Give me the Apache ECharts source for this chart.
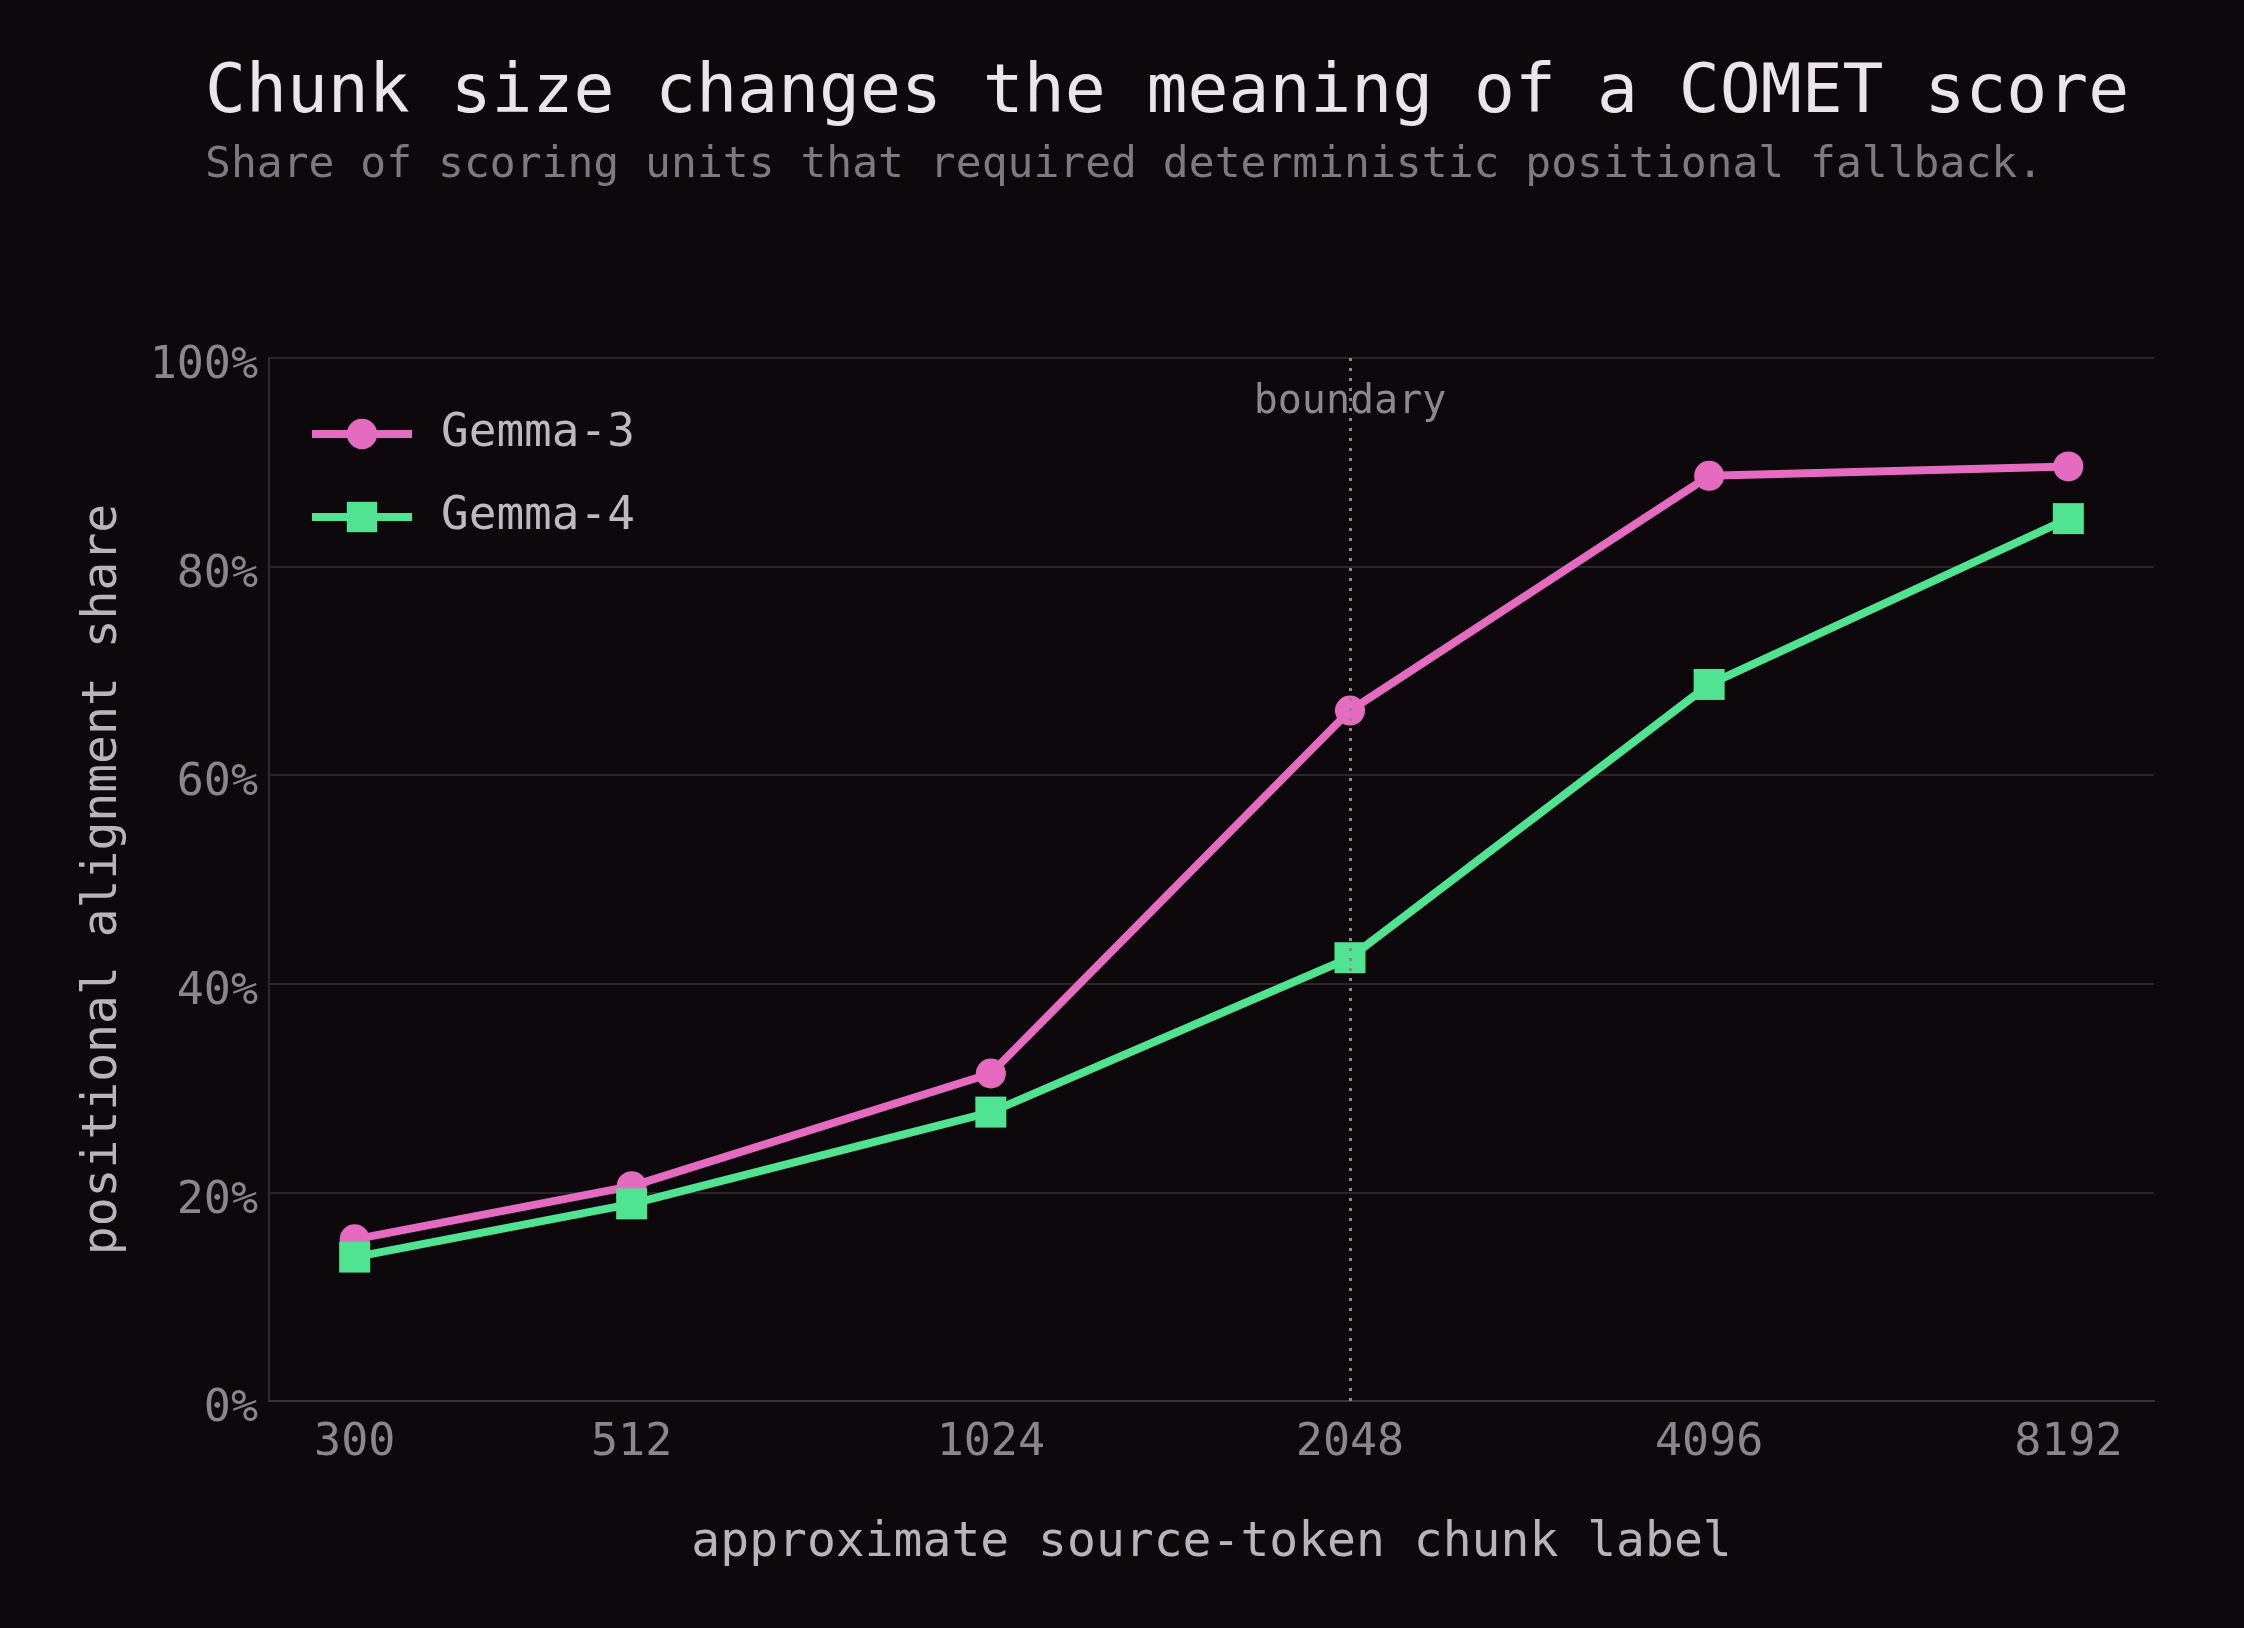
<!DOCTYPE html>
<html>
<head>
<meta charset="utf-8">
<script src="https://cdn.jsdelivr.net/npm/echarts@6/dist/echarts.min.js"></script>
<style>
html,body{margin:0;padding:0;background:#0c080c;}
#chart{width:2244px;height:1628px;}
</style>
</head>
<body>
<div id="chart"></div>
<script>
const chunkSizes = [300, 512, 1024, 2048, 4096, 8192];
const tickLabels = ['300', '512', '1024', '2048', '4096', '8192'];
const gemma3 = [15.5, 20.6, 31.4, 66.2, 88.7, 89.6];
const gemma4 = [13.8, 18.9, 27.7, 42.5, 68.7, 84.6];
const yTicks = [0, 20, 40, 60, 80, 100];
const boundaryChunk = 2048;

const FONT = '"DejaVu Sans Mono", "Liberation Mono", monospace';
const logX = chunkSizes.map(v => Math.log2(v));
const lo = Math.min(...logX), hi = Math.max(...logX), pad = (hi - lo) * 0.05;

function labelFor(v) {
  let best = 0, d = Infinity;
  logX.forEach((x, i) => { const dd = Math.abs(x - v); if (dd < d) { d = dd; best = i; } });
  return d < 1e-6 ? tickLabels[best] : '';
}

const chart = echarts.init(document.getElementById('chart'), null, {renderer: 'canvas'});
chart.setOption({
  backgroundColor: '#0c080c',
  animation: false,
  textStyle: {fontFamily: FONT},
  title: {
    text: 'Chunk size changes the meaning of a COMET score',
    subtext: 'Share of scoring units that required deterministic positional fallback.',
    left: 200,
    top: 49,
    itemGap: 7,
    textStyle: {fontFamily: FONT, fontSize: 68, fontWeight: 'normal', color: '#ebe5eb', lineHeight: 80},
    subtextStyle: {fontFamily: FONT, fontSize: 43, color: '#7f797f', lineHeight: 50}
  },
  legend: {
    left: 303,
    top: 404,
    orient: 'vertical',
    itemWidth: 100,
    itemHeight: 38,
    itemGap: 33,
    lineStyle: {width: 8},
    textStyle: {fontFamily: FONT, fontSize: 46, color: '#bfb9bf', lineHeight: 50, padding: [0, 0, 0, 24]},
    data: ['Gemma-3', 'Gemma-4']
  },
  grid: {left: 269, right: 90, top: 358, bottom: 227, containLabel: false},
  xAxis: {
    type: 'value',
    min: lo - pad,
    max: hi + pad,
    name: 'approximate source-token chunk label',
    nameLocation: 'middle',
    nameGap: 119,
    nameTextStyle: {fontFamily: FONT, fontSize: 48, color: '#bab4ba'},
    axisLine: {show: true, lineStyle: {color: '#38333a', width: 2}},
    axisTick: {show: false},
    splitLine: {show: false},
    axisLabel: {
      customValues: logX,
      formatter: labelFor,
      margin: 20,
      fontFamily: FONT, fontSize: 45, color: '#8c868c'
    }
  },
  yAxis: {
    type: 'value',
    min: 0, max: 100, interval: 20,
    name: 'positional alignment share',
    nameLocation: 'middle',
    nameGap: 141,
    nameTextStyle: {fontFamily: FONT, fontSize: 48, color: '#bab4ba'},
    axisLine: {show: true, lineStyle: {color: '#2e292d', width: 2}},
    axisTick: {show: false},
    splitLine: {show: true, lineStyle: {color: '#2a2528', width: 2}},
    axisLabel: {
      formatter: '{t|{value}%}',
      margin: 11,
      rich: {t: {fontFamily: FONT, fontSize: 45, color: '#8c868c', padding: [17, 0, 0, 0]}},
      fontFamily: FONT, fontSize: 45, color: '#8c868c'
    }
  },
  series: [
    {
      name: 'Gemma-3',
      type: 'line',
      data: chunkSizes.map((c, i) => [Math.log2(c), gemma3[i]]),
      symbol: 'circle',
      symbolSize: 30,
      lineStyle: {width: 8, color: '#e46bc0'},
      itemStyle: {color: '#e46bc0'},
      z: 3,
      markLine: {
        silent: true,
        symbol: 'none',
        lineStyle: {type: [3, 7], color: '#8e888e', width: 3},
        label: {
          show: true,
          position: 'end',
          distance: -65,
          formatter: 'boundary',
          fontFamily: FONT, fontSize: 40, color: '#8e888e'
        },
        data: [{xAxis: Math.log2(boundaryChunk)}]
      }
    },
    {
      name: 'Gemma-4',
      type: 'line',
      data: chunkSizes.map((c, i) => [Math.log2(c), gemma4[i]]),
      symbol: 'rect',
      symbolSize: 31,
      lineStyle: {width: 8, color: '#50e391'},
      itemStyle: {color: '#50e391'},
      z: 4
    }
  ]
});
</script>
</body>
</html>
